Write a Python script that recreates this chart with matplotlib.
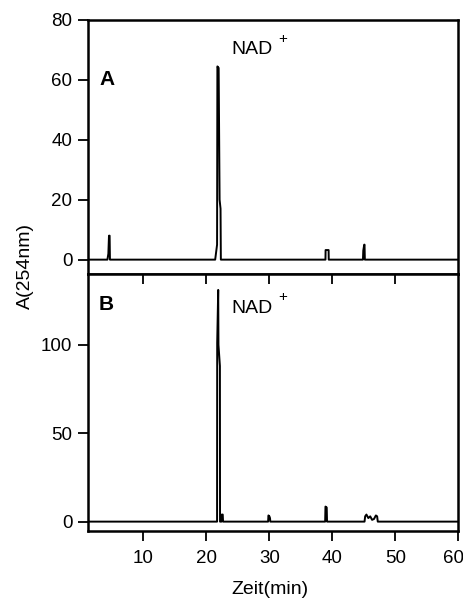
import matplotlib
matplotlib.use("Agg")
import matplotlib.pyplot as plt
from matplotlib.transforms import ScaledTranslation

plt.rcParams['font.family'] = ['Liberation Sans', 'DejaVu Sans']

# Panel A chromatogram (time in min, absorbance)
time_a = [1.2, 4.3, 4.45, 4.55, 4.65, 4.7, 21.4, 21.7, 21.75, 21.95, 22.1, 22.25, 22.3,
          38.9, 38.92, 39.4, 39.42, 44.85, 44.9, 45.05, 45.1, 45.15, 60]
abs_a = [0, 0, 2, 8, 8, 0, 0, 5, 64.5, 64, 20, 17, 0,
         0, 3.2, 3.2, 0, 0, 3, 5, 5, 0, 0]

# Panel B chromatogram
time_b = [1.2, 21.7, 21.72, 21.88, 21.92, 22.15, 22.17, 22.4, 22.45, 22.6, 22.65,
          29.8, 29.85, 30.0, 30.1, 30.15, 38.85, 38.9, 39.1, 39.15,
          45.1, 45.2, 45.4, 45.7, 46.0, 46.3, 46.6, 46.9, 47.1, 47.2, 60]
abs_b = [0, 0, 101, 131, 100, 88, 0, 0, 4, 4, 0,
         0, 3.5, 3, 2, 0, 0, 8.5, 8, 0,
         0, 3, 4, 2, 3, 1, 1.5, 3.5, 3, 0, 0]

x_ticks = [10, 20, 30, 40, 50, 60]
y_ticks_a = [0, 20, 40, 60, 80]
y_ticks_b = [0, 50, 100]

fig = plt.figure(figsize=(4.64, 6.0), dpi=100)
L, R = 0.189, 0.988
axA = fig.add_axes([L, 0.5433, R - L, 0.9667 - 0.5433])
axB = fig.add_axes([L, 0.115, R - L, 0.5433 - 0.115])

for ax in (axA, axB):
    for s in ax.spines.values():
        s.set_linewidth(1.8)
    ax.set_xlim(1.17, 60)
    ax.tick_params(axis='y', direction='out', length=7, width=1.3, labelsize=13.5, pad=4)

axA.plot(time_a, abs_a, color='black', lw=1.4)
axA.set_ylim(-4.8, 80)
axA.set_yticks(y_ticks_a)
axA.set_xticks([])
axA.text(3.0, 60, 'A', fontsize=15, fontweight='bold', va='center', ha='left')
axA.text(24.0, 70, 'NAD', fontsize=14, va='center', ha='left')
axA.text(31.4, 73.5, '+', fontsize=11, va='center', ha='left')

axB.plot(time_b, abs_b, color='black', lw=1.4)
axB.set_ylim(-5.3, 140)
axB.set_yticks(y_ticks_b)
axB.set_xticks(x_ticks)
axB.tick_params(axis='x', direction='out', length=7, width=1.3, labelsize=13.5, pad=7, top=False)
# keep the last tick label inside the figure
last = axB.get_xticklabels()[-1]
last.set_transform(last.get_transform() + ScaledTranslation(-5 / 100, 0, fig.dpi_scale_trans))
# inward ticks on top spine of B
axT = axB.secondary_xaxis('top')
axT.set_xticks([10, 20, 30, 40, 50])
axT.tick_params(direction='in', length=7, width=1.3, labeltop=False)
axB.text(2.9, 123, 'B', fontsize=15, fontweight='bold', va='center', ha='left')
axB.text(24.0, 120.5, 'NAD', fontsize=14, va='center', ha='left')
axB.text(31.4, 127, '+', fontsize=11, va='center', ha='left')

fig.text(0.054, 0.557, 'A(254nm)', rotation=90, fontsize=14, va='center', ha='center')
fig.text(0.582, 0.017, 'Zeit(min)', fontsize=14, va='center', ha='center')

fig.savefig('out.png', dpi=100)
